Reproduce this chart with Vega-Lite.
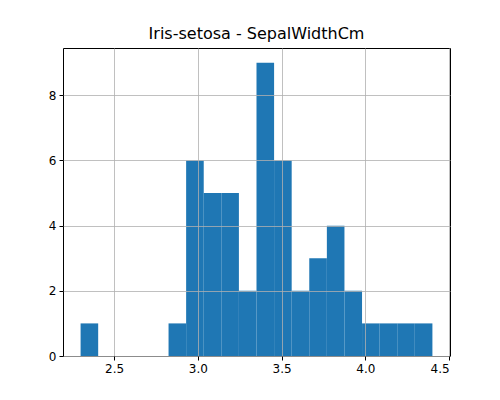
{
  "$schema": "https://vega.github.io/schema/vega-lite/v6.json",
  "width": 387,
  "height": 308,
  "autosize": {"type": "none"},
  "padding": {"left": 63, "top": 48, "right": 50, "bottom": 44},
  "background": "white",
  "title": {"text": "Iris-setosa - SepalWidthCm", "font": "DejaVu Sans", "fontSize": 16, "fontWeight": "normal", "color": "black", "offset": 6},
  "config": {
    "view": {"stroke": "black", "strokeWidth": 1},
    "axis": {"labelFont": "DejaVu Sans", "labelFontSize": 12, "labelColor": "black", "tickColor": "black", "domain": false, "gridColor": "#b0b0b0", "gridOpacity": 1, "gridWidth": 0.8, "tickSize": 4, "labelPadding": 3}
  },
  "data": {"values": [
    {"bin_start": 2.300, "bin_end": 2.405, "count": 1},
    {"bin_start": 2.825, "bin_end": 2.930, "count": 1},
    {"bin_start": 2.930, "bin_end": 3.035, "count": 6},
    {"bin_start": 3.035, "bin_end": 3.140, "count": 5},
    {"bin_start": 3.140, "bin_end": 3.245, "count": 5},
    {"bin_start": 3.245, "bin_end": 3.350, "count": 2},
    {"bin_start": 3.350, "bin_end": 3.455, "count": 9},
    {"bin_start": 3.455, "bin_end": 3.560, "count": 6},
    {"bin_start": 3.560, "bin_end": 3.665, "count": 2},
    {"bin_start": 3.665, "bin_end": 3.770, "count": 3},
    {"bin_start": 3.770, "bin_end": 3.875, "count": 4},
    {"bin_start": 3.875, "bin_end": 3.980, "count": 2},
    {"bin_start": 3.980, "bin_end": 4.085, "count": 1},
    {"bin_start": 4.085, "bin_end": 4.190, "count": 1},
    {"bin_start": 4.190, "bin_end": 4.295, "count": 1},
    {"bin_start": 4.295, "bin_end": 4.400, "count": 1}
  ]},
  "layer": [
    {
      "mark": {"type": "rect", "color": "#1f77b4"},
      "encoding": {
        "x": {"field": "bin_start", "type": "quantitative", "scale": {"domain": [2.195, 4.505], "nice": false, "zero": false},
              "axis": {"values": [2.5, 3.0, 3.5, 4.0, 4.5], "format": ".1f", "title": null, "grid": true, "zindex": 1}},
        "x2": {"field": "bin_end"},
        "y": {"field": "count", "type": "quantitative", "scale": {"domain": [0, 9.45], "nice": false},
              "axis": {"values": [0, 2, 4, 6, 8], "title": null, "grid": true, "zindex": 1}},
        "y2": {"datum": 0}
      }
    }
  ]
}
